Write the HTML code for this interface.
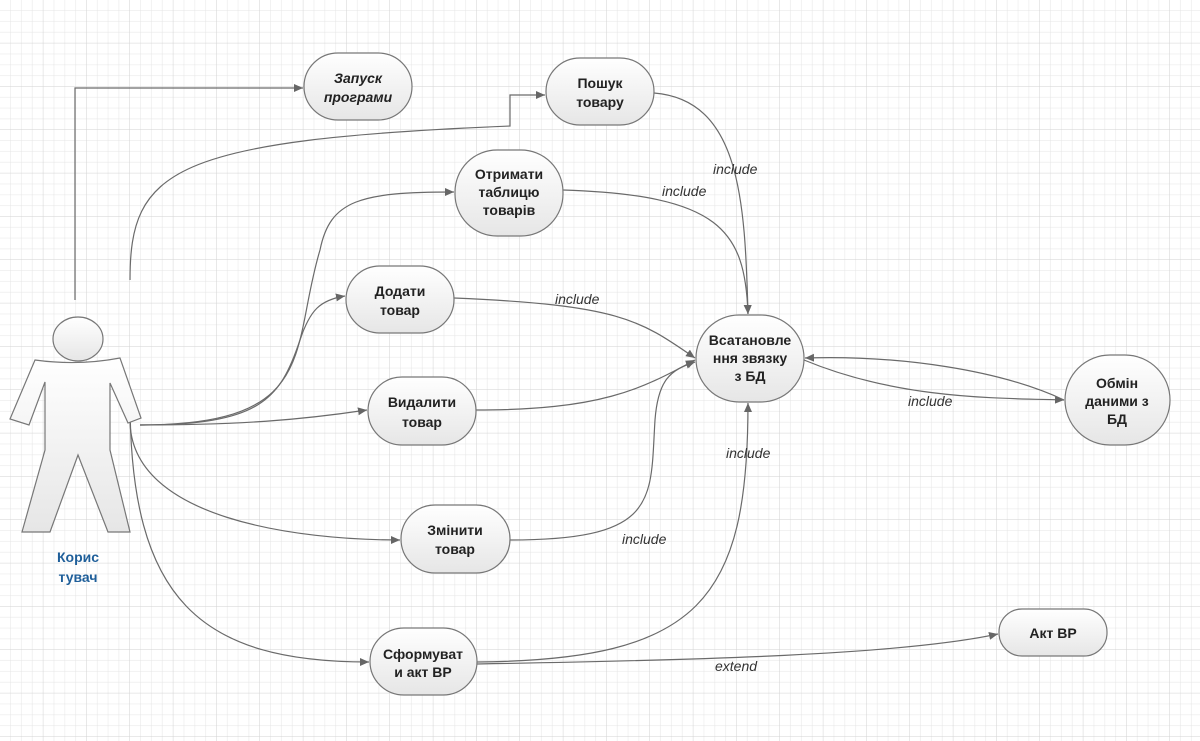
<!DOCTYPE html>
<html><head><meta charset="utf-8"><style>
html,body{margin:0;padding:0;width:1200px;height:741px;overflow:hidden;background:#fff}
svg{display:block}
text{font-family:"Liberation Sans",sans-serif}
</style></head><body>
<svg width="1200" height="741" viewBox="0 0 1200 741" xmlns="http://www.w3.org/2000/svg">
<defs>
<pattern id="g1" width="10.833" height="10.833" patternUnits="userSpaceOnUse"><path d="M10.833 0V10.833H0" fill="none" stroke="#e4e4e4" stroke-width="1"/></pattern>
<pattern id="g2" width="43.333" height="43.333" patternUnits="userSpaceOnUse"><rect width="43.333" height="43.333" fill="url(#g1)"/><path d="M43.333 0V43.333H0" fill="none" stroke="#d2d2d2" stroke-width="1"/></pattern>
<linearGradient id="ng" x1="0" y1="0" x2="0" y2="1"><stop offset="0" stop-color="#ffffff"/><stop offset="1" stop-color="#e6e6e6"/></linearGradient>
<marker id="a" markerWidth="10" markerHeight="10" refX="9" refY="5" orient="auto" markerUnits="userSpaceOnUse"><path d="M0 1L9 5L0 9z" fill="#666"/></marker>
</defs>
<rect width="1200" height="741" fill="url(#g2)"/>
<g fill="none" stroke="#6a6a6a" stroke-width="1.2">
<path d="M75 300V88H303" marker-end="url(#a)"/>
<path d="M130 280C130 170 170 140 510 126V95H545" marker-end="url(#a)"/>
<path d="M140 425C320 425 290 350 320 250C330 200 360 192 454 192" marker-end="url(#a)"/>
<path d="M140 425C260 425 280 400 300 340C310 310 320 300 345 296" marker-end="url(#a)"/>
<path d="M140 425C240 425 300 420 367 410" marker-end="url(#a)"/>
<path d="M130 420C130 520 300 540 400 540" marker-end="url(#a)"/>
<path d="M130 400C130 600 200 662 369 662" marker-end="url(#a)"/>
<path d="M654 93C740 100 745 200 748 314" marker-end="url(#a)"/>
<path d="M563 190C720 195 745 230 748 314" marker-end="url(#a)"/>
<path d="M454 298C620 305 640 320 695 358" marker-end="url(#a)"/>
<path d="M476 410C600 410 640 390 695 360" marker-end="url(#a)"/>
<path d="M510 540C660 540 650 500 655 420C658 380 670 370 695 362" marker-end="url(#a)"/>
<path d="M477 662C700 660 748 600 748 403" marker-end="url(#a)"/>
<path d="M804 360C900 400 1000 398 1064 400" marker-end="url(#a)"/>
<path d="M1064 400C1000 370 900 355 805 358" marker-end="url(#a)"/>
<path d="M477 664C700 660 900 655 998 634" marker-end="url(#a)"/>
</g>
<g font-size="14" font-style="italic" fill="#333">
<text x="713" y="174">include</text>
<text x="662" y="196">include</text>
<text x="555" y="304">include</text>
<text x="908" y="406">include</text>
<text x="726" y="458">include</text>
<text x="622" y="544">include</text>
<text x="715" y="671">extend</text>
</g>
<g stroke="#777" stroke-width="1.2" fill="url(#ng)">
<rect x="304" y="53" width="108" height="67" rx="34"/>
<rect x="546" y="58" width="108" height="67" rx="34"/>
<rect x="455" y="150" width="108" height="86" rx="42"/>
<rect x="346" y="266" width="108" height="67" rx="34"/>
<rect x="368" y="377" width="108" height="68" rx="34"/>
<rect x="696" y="315" width="108" height="87" rx="43"/>
<rect x="1065" y="355" width="105" height="90" rx="45"/>
<rect x="401" y="505" width="109" height="68" rx="34"/>
<rect x="370" y="628" width="107" height="67" rx="34"/>
<rect x="999" y="609" width="108" height="47" rx="23"/>
<ellipse cx="78" cy="339" rx="25" ry="22"/>
<path d="M35 360Q78 366 120 358L141 418L128 423L110 383V450L130 532H108L78 455L50 532H22L45 450V382L29 425L10 419Z"/>
</g>
<g font-size="14" font-weight="bold" fill="#222" text-anchor="middle">
<text x="358" y="83" font-style="italic">Запуск</text><text x="358" y="102" font-style="italic">програми</text>
<text x="600" y="88">Пошук</text><text x="600" y="107">товару</text>
<text x="509" y="179">Отримати</text><text x="509" y="197">таблицю</text><text x="509" y="215">товарів</text>
<text x="400" y="296">Додати</text><text x="400" y="315">товар</text>
<text x="422" y="407">Видалити</text><text x="422" y="427">товар</text>
<text x="750" y="345">Всатановле</text><text x="750" y="363">ння звязку</text><text x="750" y="381">з БД</text>
<text x="1117" y="388">Обмін</text><text x="1117" y="406">даними з</text><text x="1117" y="424">БД</text>
<text x="455" y="535">Змінити</text><text x="455" y="554">товар</text>
<text x="423" y="659">Сформуват</text><text x="423" y="677">и акт ВР</text>
<text x="1053" y="638">Акт ВР</text>
<text x="78" y="562" fill="#1f5f9a">Корис</text><text x="78" y="582" fill="#1f5f9a">тувач</text>
</g>
</svg>
</body></html>
